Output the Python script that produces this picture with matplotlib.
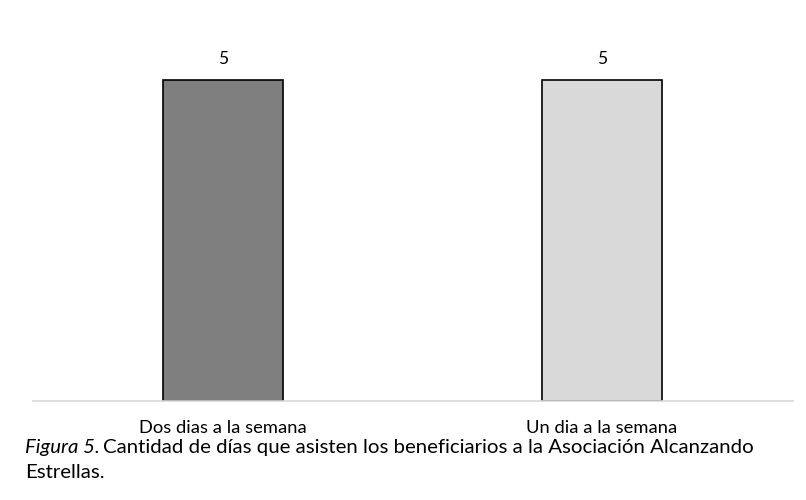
import matplotlib.pyplot as plt

categories = ['Dos dias a la semana', 'Un dia a la semana']
values = [5, 5]
colors = ['#7f7f7f', '#d9d9d9']

plt.rcParams['font.family'] = ['Lato', 'DejaVu Sans']

fig = plt.figure(figsize=(8.06, 5.0), dpi=100)
ax = fig.add_axes([33 / 806, 99 / 500, 760 / 806, 385 / 500])

x = range(len(categories))
bars = ax.bar(x, values, width=0.317, color=colors, edgecolor='black', linewidth=1.2)
for b, v in zip(bars, values):
    ax.annotate(str(v), (b.get_x() + b.get_width() / 2, v), xytext=(0, 9.5),
                textcoords='offset points', ha='center', va='bottom', fontsize=12.5)

ax.set_xlim(-0.501, 1.504)
ax.set_ylim(0, 6)
ax.set_xticks(list(x))
ax.set_xticklabels(categories, fontsize=13.2)
ax.tick_params(axis='x', length=0, pad=14)
ax.set_yticks([])
for s in ['top', 'left', 'right']:
    ax.spines[s].set_visible(False)
ax.spines['bottom'].set_color('#d9d9d9')
ax.spines['bottom'].set_linewidth(1.2)

fig.text(25 / 806, 1 - 453 / 500,
         'Figura 5.', fontsize=14.7, style='italic', va='baseline', ha='left')
fig.text(103 / 806, 1 - 453 / 500,
         'Cantidad de días que asisten los beneficiarios a la Asociación Alcanzando',
         fontsize=14.7, va='baseline', ha='left')
fig.text(25 / 806, 1 - 478 / 500, 'Estrellas.', fontsize=14.7, va='baseline', ha='left')

fig.savefig('out.png', dpi=100)
